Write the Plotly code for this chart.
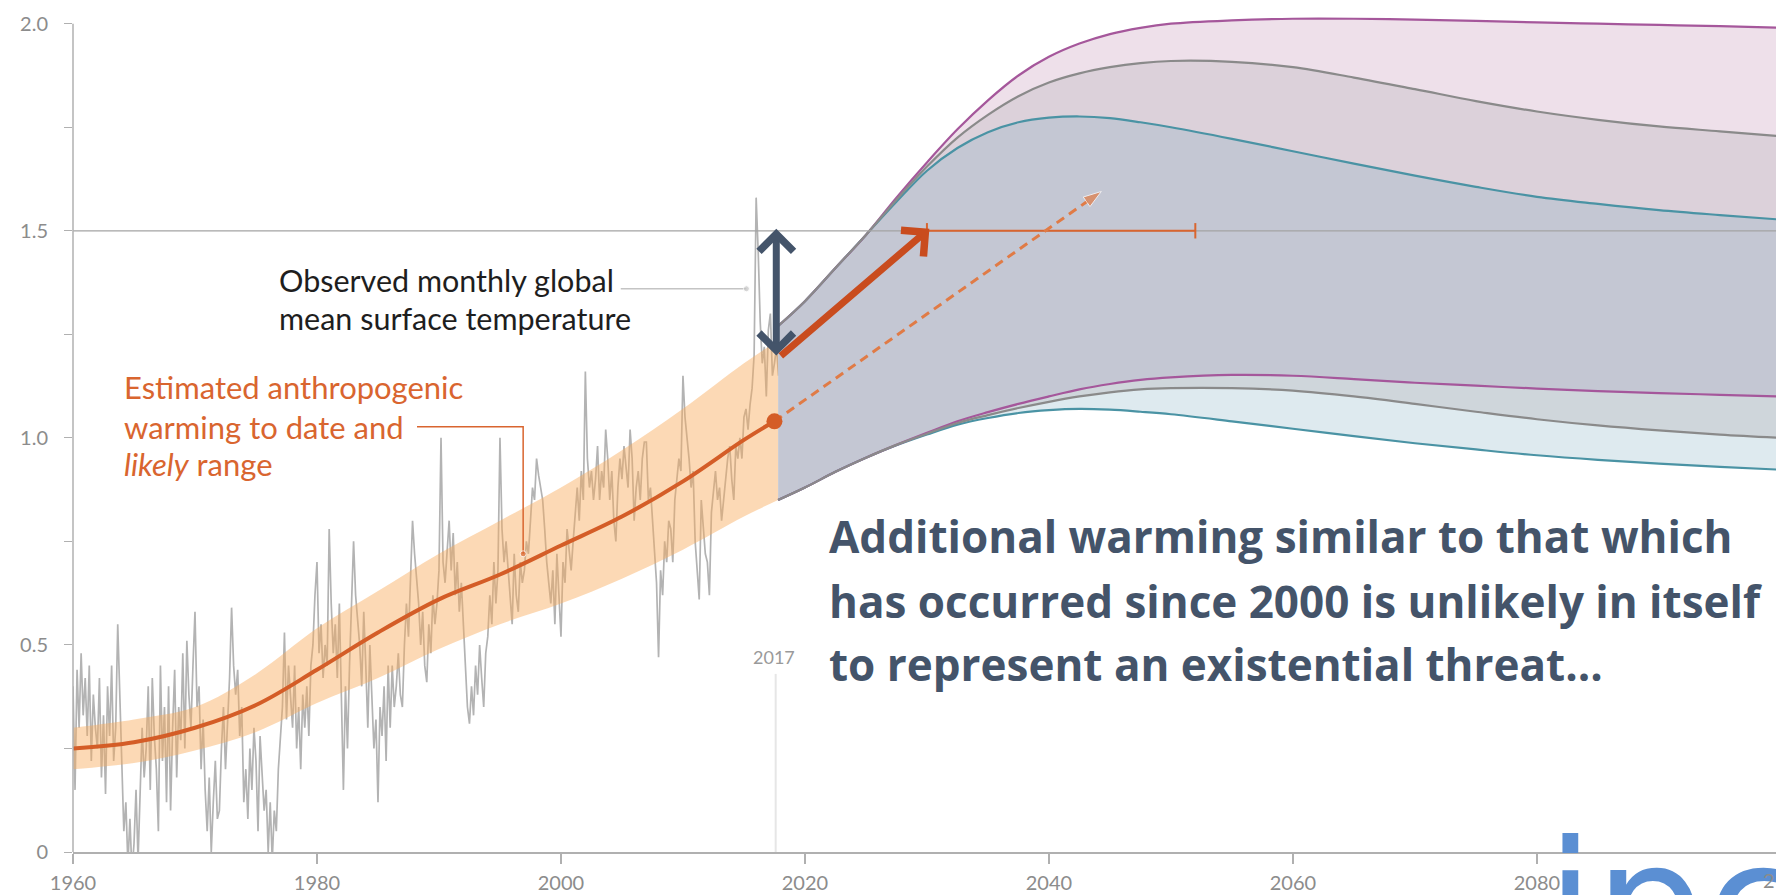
import plotly.graph_objects as go

# ---------------- data ----------------
# Observed monthly global mean surface temperature (read every 2 months), 1960-2017
obs_start_year = 1960
obs_per_year = 6
obs_values = [
    0.40, 0.15, 0.44, 0.30, 0.48, 0.33,   # 1960
    0.42, 0.28, 0.45, 0.22, 0.38, 0.30,   # 1961
    0.25, 0.42, 0.18, 0.33, 0.14, 0.40,   # 1962
    0.28, 0.45, 0.22, 0.30, 0.55, 0.38,   # 1963
    0.24, 0.05, 0.12, -0.03, 0.08, -0.05, # 1964
    0.02, 0.15, -0.02, 0.12, 0.30, 0.18,  # 1965
    0.25, 0.40, 0.15, 0.42, 0.28, 0.20,   # 1966
    0.05, 0.45, 0.22, 0.35, 0.12, 0.40,   # 1967
    0.10, 0.30, 0.44, 0.18, 0.35, 0.27,   # 1968
    0.48, 0.25, 0.51, 0.38, 0.30, 0.45,   # 1969
    0.58, 0.35, 0.40, 0.20, 0.32, 0.15,   # 1970
    0.05, 0.18, 0.00, 0.12, 0.22, 0.08,   # 1971
    0.10, 0.25, 0.35, 0.20, 0.30, 0.42,   # 1972
    0.59, 0.45, 0.38, 0.44, 0.28, 0.35,   # 1973
    0.12, 0.20, 0.08, 0.25, 0.15, 0.30,   # 1974
    0.22, 0.05, 0.28, 0.18, 0.10, 0.15,   # 1975
    0.00, 0.12, -0.02, 0.10, 0.05, 0.20,  # 1976
    0.28, 0.35, 0.53, 0.32, 0.45, 0.38,   # 1977
    0.30, 0.45, 0.25, 0.35, 0.20, 0.38,   # 1978
    0.30, 0.40, 0.28, 0.45, 0.50, 0.62,   # 1979
    0.70, 0.48, 0.55, 0.42, 0.50, 0.45,   # 1980
    0.78, 0.60, 0.48, 0.55, 0.42, 0.60,   # 1981
    0.35, 0.15, 0.40, 0.25, 0.45, 0.60,   # 1982
    0.75, 0.62, 0.55, 0.50, 0.40, 0.58,   # 1983
    0.45, 0.30, 0.50, 0.35, 0.25, 0.32,   # 1984
    0.12, 0.35, 0.28, 0.40, 0.22, 0.45,   # 1985
    0.30, 0.45, 0.35, 0.40, 0.48, 0.38,   # 1986
    0.35, 0.50, 0.60, 0.52, 0.66, 0.80,   # 1987
    0.72, 0.65, 0.60, 0.50, 0.58, 0.45,   # 1988
    0.41, 0.55, 0.48, 0.62, 0.55, 0.60,   # 1989
    0.68, 1.00, 0.70, 0.65, 0.72, 0.80,   # 1990
    0.68, 0.77, 0.62, 0.70, 0.58, 0.65,   # 1991
    0.55, 0.45, 0.35, 0.31, 0.40, 0.33,   # 1992
    0.45, 0.38, 0.50, 0.42, 0.35, 0.48,   # 1993
    0.52, 0.62, 0.55, 0.70, 0.60, 0.68,   # 1994
    1.00, 0.78, 0.70, 0.75, 0.68, 0.60,   # 1995
    0.55, 0.72, 0.62, 0.58, 0.70, 0.65,   # 1996
    0.68, 0.75, 0.72, 0.80, 0.88, 0.85,   # 1997
    0.95, 0.91, 0.88, 0.85, 0.78, 0.70,   # 1998
    0.65, 0.60, 0.68, 0.55, 0.72, 0.62,   # 1999
    0.52, 0.70, 0.65, 0.78, 0.72, 0.68,   # 2000
    0.75, 0.82, 0.88, 0.80, 0.92, 0.85,   # 2001
    1.16, 0.95, 0.88, 0.92, 0.85, 0.90,   # 2002
    0.98, 0.85, 0.92, 0.88, 1.02, 0.95,   # 2003
    0.85, 0.92, 0.80, 0.75, 0.88, 0.95,   # 2004
    0.90, 0.98, 0.92, 0.88, 1.02, 0.95,   # 2005
    0.80, 0.88, 0.92, 0.85, 0.95, 0.99,   # 2006
    0.99, 0.85, 0.88, 0.80, 0.72, 0.65,   # 2007
    0.47, 0.68, 0.62, 0.75, 0.70, 0.80,   # 2008
    0.78, 0.70, 0.85, 0.90, 0.95, 0.92,   # 2009
    1.15, 1.05, 1.00, 0.95, 0.88, 0.92,   # 2010
    0.75, 0.68, 0.61, 0.85, 0.78, 0.72,   # 2011
    0.70, 0.62, 0.82, 0.88, 0.92, 0.85,   # 2012
    0.88, 0.80, 0.85, 0.90, 0.95, 0.98,   # 2013
    0.90, 0.85, 0.98, 0.95, 1.00, 0.95,   # 2014
    1.05, 1.07, 1.02, 1.08, 1.12, 1.20,   # 2015
    1.58, 1.45, 1.28, 1.18, 1.22, 1.10,   # 2016
    1.26, 1.30, 1.15, 1.18, 1.22, 1.15,   # 2017
]
obs_years = [obs_start_year + i / obs_per_year for i in range(len(obs_values))]

# Estimated anthropogenic warming and likely range
anth_years = [1960, 1965, 1970, 1975, 1980, 1985, 1990, 1995, 2000, 2005, 2010, 2015, 2017.5]
anth_mid = [0.25, 0.265, 0.30, 0.355, 0.44, 0.53, 0.61, 0.67, 0.74, 0.81, 0.895, 0.995, 1.04]
band_years = [1960, 1965, 1970, 1975, 1980, 1985, 1990, 1995, 2000, 2005, 2010, 2015, 2017.8]
band_hi = [0.30, 0.32, 0.35, 0.43, 0.54, 0.63, 0.72, 0.80, 0.88, 0.97, 1.07, 1.18, 1.235]
band_lo = [0.20, 0.215, 0.245, 0.29, 0.36, 0.42, 0.49, 0.55, 0.60, 0.66, 0.73, 0.81, 0.85]

# Future pathway ranges
fut_years = [2017.8, 2020, 2022.5, 2025, 2027.5, 2030, 2032.5, 2035, 2037.5, 2040, 2042.5,
             2045, 2047.5, 2050, 2055, 2060, 2065, 2070, 2075, 2080, 2085, 2090, 2095, 2100]
purple_hi = [1.27, 1.33, 1.41, 1.49, 1.58, 1.665, 1.745, 1.815, 1.875, 1.92, 1.952, 1.975,
             1.99, 2.0, 2.008, 2.012, 2.012, 2.01, 2.007, 2.003, 2.0, 1.997, 1.994, 1.99]
gray_hi = [1.27, 1.33, 1.41, 1.49, 1.575, 1.655, 1.725, 1.78, 1.825, 1.858, 1.88, 1.895,
           1.905, 1.91, 1.908, 1.895, 1.87, 1.842, 1.813, 1.788, 1.768, 1.752, 1.74, 1.728]
teal_hi = [1.27, 1.33, 1.41, 1.49, 1.57, 1.645, 1.70, 1.738, 1.762, 1.773, 1.776, 1.772,
           1.762, 1.75, 1.722, 1.692, 1.662, 1.633, 1.606, 1.582, 1.565, 1.55, 1.538, 1.527]
purple_lo = [0.85, 0.88, 0.918, 0.952, 0.983, 1.012, 1.04, 1.062, 1.082, 1.10, 1.117, 1.13,
             1.14, 1.146, 1.152, 1.15, 1.142, 1.133, 1.126, 1.119, 1.113, 1.108, 1.104, 1.10]
gray_lo = [0.85, 0.88, 0.918, 0.952, 0.983, 1.01, 1.036, 1.055, 1.072, 1.087, 1.10, 1.11,
           1.117, 1.12, 1.12, 1.114, 1.10, 1.082, 1.063, 1.045, 1.03, 1.018, 1.008, 1.0]
teal_lo = [0.85, 0.88, 0.918, 0.952, 0.982, 1.008, 1.032, 1.048, 1.06, 1.067, 1.07, 1.068,
           1.063, 1.057, 1.04, 1.022, 1.004, 0.987, 0.972, 0.958, 0.947, 0.938, 0.93, 0.923]

# Reference level and annotation anchors
threshold_years = [1960, 2100]
threshold_level = 1.5
reach_15_years = [2030, 2052]          # 1.5 reached between 2030 and 2052
current_year = 2017.5
current_warming = 1.04
current_observed = 1.195
dashed_end = [2044.3, 1.595]
arrow_end = [2030.2, 1.505]
obs_leader_x = [2004.9, 2015.2]
obs_leader_y = [1.36, 1.36]
anth_leader_x = [1988.2, 1996.9, 1996.9]
anth_leader_y = [1.027, 1.027, 0.72]
line2017_y = [0.0, 0.43]

obs_label_lines = ["Observed monthly global", "mean surface temperature"]
obs_label_y = [1.382, 1.290]
anth_label_lines = ["Estimated anthropogenic", "warming to date and", "<i>likely</i> range"]
anth_label_y = [1.123, 1.027, 0.937]
message_lines = ["Additional warming similar to that which",
                 "has occurred since 2000 is unlikely in itself",
                 "to represent an existential threat..."]
message_y = [0.763, 0.606, 0.454]

x_ticks = [1960, 1980, 2000, 2020, 2040, 2060, 2080]
y_ticks = [0, 0.25, 0.5, 0.75, 1.0, 1.25, 1.5, 1.75, 2.0]
y_ticktext = ["0", "", "0.5", "", "1.0", "", "1.5", "", "2.0"]

# ---------------- figure ----------------
ORANGE = "#D45D27"
NAVY = "#44546A"
TICK = "#8c8c8c"
FONT = "Lato"
X0, X1 = 1960, 2099.6

fig = go.Figure()

# 2017 marker line
fig.add_trace(go.Scatter(x=[2017.6, 2017.6], y=line2017_y, mode="lines",
                         line=dict(color="#e6e6e6", width=2), hoverinfo="skip"))

# observed
fig.add_trace(go.Scatter(x=obs_years, y=obs_values, mode="lines",
                         line=dict(color="#b3b3b3", width=1.7)))

# likely range band
fig.add_trace(go.Scatter(x=band_years, y=band_lo, mode="lines", line=dict(width=0, shape="spline"),
                         hoverinfo="skip"))
fig.add_trace(go.Scatter(x=band_years, y=band_hi, mode="lines", line=dict(width=0, shape="spline"),
                         fill="tonexty", fillcolor="rgba(249,170,90,0.45)"))
# anthropogenic warming line
fig.add_trace(go.Scatter(x=anth_years, y=anth_mid, mode="lines",
                         line=dict(color=ORANGE, width=4, shape="spline")))

# future fills (bottom to top)
fills = [
    (teal_lo, None),
    (gray_lo, "#deeaef"),
    (purple_lo, "#cfd6db"),
    (teal_hi, "#c4c7d3"),
    (gray_hi, "#dcd1da"),
    (purple_hi, "#eee0ea"),
]
for ys, col in fills:
    if col is None:
        fig.add_trace(go.Scatter(x=fut_years, y=ys, mode="lines",
                                 line=dict(width=0, shape="spline"), hoverinfo="skip"))
    else:
        fig.add_trace(go.Scatter(x=fut_years, y=ys, mode="lines",
                                 line=dict(width=0, shape="spline"),
                                 fill="tonexty", fillcolor=col, hoverinfo="skip"))

# future lines
for ys, col in [(teal_lo, "#4a93a4"), (teal_hi, "#4a93a4"),
                (purple_lo, "#a5579b"), (purple_hi, "#a5579b"),
                (gray_lo, "#8a8a8a"), (gray_hi, "#8a8a8a")]:
    fig.add_trace(go.Scatter(x=fut_years, y=ys, mode="lines",
                             line=dict(color=col, width=2.2, shape="spline")))

# 1.5 reference line
fig.add_trace(go.Scatter(x=threshold_years, y=[threshold_level] * 2, mode="lines",
                         line=dict(color="#a3a3a3", width=1.2)))
# 2030-2052 range
fig.add_trace(go.Scatter(x=reach_15_years, y=[threshold_level] * 2, mode="lines+markers",
                         line=dict(color="#D9652F", width=2),
                         marker=dict(symbol="line-ns-open", size=11,
                                     line=dict(color="#D9652F", width=2))))

# dashed continuation arrow
fig.add_trace(go.Scatter(x=[current_year, dashed_end[0]], y=[current_warming, dashed_end[1]],
                         mode="lines+markers",
                         line=dict(color="#E07B46", width=3, dash="9px,6px"),
                         marker=dict(symbol="arrow", size=[0, 19], angleref="previous",
                                     color="#E07B46")))
# current warming dot
fig.add_trace(go.Scatter(x=[current_year], y=[current_warming], mode="markers",
                         marker=dict(color=ORANGE, size=16)))

# leaders
fig.add_trace(go.Scatter(x=obs_leader_x, y=obs_leader_y, mode="lines+markers",
                         line=dict(color="#c4c4c4", width=1.5),
                         marker=dict(size=[0, 6], color="#c4c4c4")))
fig.add_trace(go.Scatter(x=anth_leader_x, y=anth_leader_y, mode="lines+markers",
                         line=dict(color="#D9652F", width=1.5),
                         marker=dict(size=[0, 0, 6], color="#D9652F")))

annotations = [
    # arrows
    dict(x=2017.65, y=arrow_end[1], ax=2017.65, ay=current_observed, xref="x", yref="y",
         axref="x", ayref="y", text="", showarrow=True, arrowhead=4, startarrowhead=4,
         arrowside="end+start", arrowwidth=7, arrowsize=0.95, startarrowsize=0.95,
         arrowcolor=NAVY),
    dict(x=arrow_end[0], y=arrow_end[1], ax=2017.9, ay=current_observed, xref="x", yref="y",
         axref="x", ayref="y", text="", showarrow=True, arrowhead=4, arrowwidth=7,
         arrowsize=0.95, arrowcolor="#C94C1E"),
    dict(x=2017.5, y=0.471, xref="x", yref="y", text="2017", showarrow=False,
         font=dict(family=FONT, size=18, color="#9a9a9a")),
    # ipcc logo text
    dict(x=0.864, y=0.059, xref="paper", yref="paper", xanchor="left", yanchor="top",
         text="ipcc", showarrow=False,
         font=dict(family="DejaVu Sans", size=175, color="#5b8fd3")),
    # partially visible 2100 tick label (drawn over the logo)
    dict(x=(1761 - 73) / 1703, y=-0.033, xref="paper", yref="paper", text="2100",
         xanchor="left", showarrow=False, yanchor="middle",
         font=dict(family=FONT, size=20, color=TICK)),
]
for txt, yy in zip(obs_label_lines, obs_label_y):
    annotations.append(dict(x=1976.7, y=yy, xref="x", yref="y", xanchor="left",
                            yanchor="middle", text=txt, showarrow=False,
                            font=dict(family=FONT, size=30.5, color="#1e1e1e")))
for txt, yy in zip(anth_label_lines, anth_label_y):
    annotations.append(dict(x=1964.0, y=yy, xref="x", yref="y", xanchor="left",
                            yanchor="middle", text=txt, showarrow=False,
                            font=dict(family=FONT, size=31, color="#D9652F")))
for txt, yy in zip(message_lines, message_y):
    annotations.append(dict(x=2021.8, y=yy, xref="x", yref="y", xanchor="left",
                            yanchor="middle", text=txt, showarrow=False,
                            font=dict(family="Open Sans", size=44, color=NAVY,
                                      weight="bold")))

fig.update_layout(
    width=1776, height=895,
    margin=dict(l=73, r=0, t=3, b=43),
    paper_bgcolor="white", plot_bgcolor="white",
    showlegend=False,
    annotations=annotations,
    shapes=[dict(type="line", xref="paper", x0=0, x1=0, yref="y", y0=0, y1=2.0,
                 line=dict(color="#b0b0b0", width=1.5))],
    xaxis=dict(range=[X0, X1], tickvals=x_ticks, ticks="outside", ticklen=10,
               tickcolor="#b0b0b0", tickwidth=1.5, showline=True, linecolor="#b0b0b0",
               linewidth=1.8, showgrid=False, zeroline=False, ticklabelstandoff=2,
               automargin=False, tickfont=dict(family=FONT, size=20, color=TICK)),
    yaxis=dict(range=[0, 2.05], tickvals=y_ticks, ticktext=y_ticktext, ticks="outside",
               ticklen=8, tickcolor="#b0b0b0", tickwidth=1.2, showline=False,
               showgrid=False, zeroline=False, ticklabelstandoff=12, automargin=False,
               tickfont=dict(family=FONT, size=20, color=TICK)),
)

fig.write_html("out.html", config={"displayModeBar": False},
               post_script="document.body.style.margin='0';document.body.style.overflow='hidden';")
